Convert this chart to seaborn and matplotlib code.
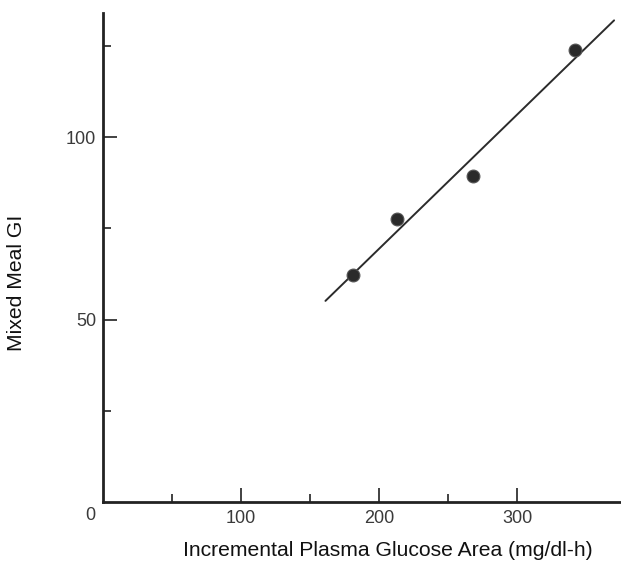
import numpy as np
import pandas as pd
import matplotlib
matplotlib.use("Agg")
import matplotlib.pyplot as plt
import seaborn as sns

# values
glucose_area = [181, 213, 268, 342]
meal_gi = [62.2, 77.5, 89.3, 123.8]
fit_range = [161, 370]

x_major = [100, 200, 300]
x_minor = [50, 150, 250]
y_major = [50, 100]
y_minor = [25, 75, 125]

sns.set_style("white")
plt.rcParams['font.family'] = ['Liberation Sans', 'DejaVu Sans']

df = pd.DataFrame({"area": glucose_area, "gi": meal_gi})

fig = plt.figure(figsize=(6.21, 5.72), dpi=100)
ax = fig.add_axes([0.166, 0.1224, 0.834, 0.855])

# regression line through the points
slope, icept = np.polyfit(df["area"], df["gi"], 1)
lx = np.array(fit_range)
ax.plot(lx, slope * lx + icept, color="#2b2b2b", lw=1.4, zorder=2)

sns.scatterplot(data=df, x="area", y="gi", ax=ax, s=85, color="#2a2a2a",
                edgecolor="#555555", linewidth=0.8, zorder=3)

ax.set_xlim(0, 375)
ax.set_ylim(0, 134)

for side in ["top", "right"]:
    ax.spines[side].set_visible(False)
for side in ["left", "bottom"]:
    ax.spines[side].set_linewidth(2.0)
    ax.spines[side].set_color("#222222")

ax.set_xticks(x_major)
ax.set_xticks(x_minor, minor=True)
ax.set_yticks(y_major)
ax.set_yticks(y_minor, minor=True)
ax.tick_params(axis="both", which="both", bottom=True, left=True)
ax.tick_params(axis="both", which="major", direction="in", length=10, width=1.3,
               color="#333333", labelsize=13, labelcolor="#3a3a3a", pad=6)
ax.tick_params(axis="both", which="minor", direction="in", length=5.5, width=1.3,
               color="#333333")
ax.tick_params(axis="y", which="major", pad=5)

# the lone "0" at the origin corner
ax.annotate("0", xy=(0, 0), xytext=(-9, -10), textcoords="offset points",
            ha="center", va="center", fontsize=13, color="#3a3a3a")

ax.set_xlabel("")
ax.set_ylabel("")
fig.text(0.625, 0.037, "Incremental Plasma Glucose Area (mg/dl-h)",
         ha="center", va="center", fontsize=15.2, color="#111111")
fig.text(0.026, 0.505, "Mixed Meal GI", rotation=90,
         ha="center", va="center", fontsize=15.2, color="#111111")

fig.savefig("out.png", dpi=100)
